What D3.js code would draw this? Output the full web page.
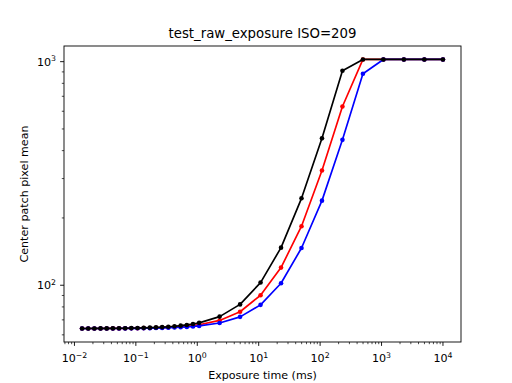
<!DOCTYPE html>
<html><head><meta charset="utf-8">
<script src="https://cdn.jsdelivr.net/npm/d3@7"></script>
<style>body{margin:0;background:#fff}svg{display:block}text{font-family:"DejaVu Sans",sans-serif;fill:#000}</style>
</head><body><svg id="c" width="512" height="383"></svg>
<script>
const title = "test_raw_exposure ISO=209";
const xLabel = "Exposure time (ms)";
const yLabel = "Center patch pixel mean";
const exposures = [0.0133,0.01676,0.02111,0.0266,0.03352,0.04223,0.0532,0.06703,0.08445,0.1064,
  0.1341,0.1689,0.2128,0.2681,0.3378,0.4256,0.5362,0.6756,0.8512,1.0724,
  2.31,4.977,10.72,23.1,49.77,107.2,231,497.7,1072,2310,4977,10000];
const redMeans = [64.03,64.04,64.05,64.06,64.08,64.10,64.13,64.16,64.21,64.26,
  64.33,64.41,64.52,64.65,64.82,65.03,65.30,65.64,66.07,66.61,
  69.6,76.1,90.2,119.9,183.7,325.8,630,1023,1023,1023,1023,1023];
const blueMeans = [64.02,64.03,64.03,64.04,64.06,64.07,64.09,64.11,64.14,64.18,
  64.22,64.28,64.35,64.44,64.56,64.70,64.88,65.11,65.40,65.77,
  67.8,72.2,81.7,102.1,146.7,239,447,883,1023,1023,1023,1023];
const blackMeans = [64.05,64.06,64.08,64.10,64.12,64.15,64.19,64.24,64.31,64.39,
  64.49,64.61,64.77,64.97,65.23,65.54,65.95,66.45,67.09,67.89,
  72.4,82.1,102.8,147.3,244.8,454,910,1023,1023,1023,1023,1023];
const xTickExps = [-2,-1,0,1,2,3,4];
const yTickExps = [2,3];
const series = [
  {values: redMeans, color: "#ff0000"},
  {values: blueMeans, color: "#0000ff"},
  {values: blackMeans, color: "#000000"}
];

const L = 64, R = 461, T = 46, B = 342;
const svg = d3.select("#c");

function logPad(lo, hi) {
  const a = Math.log10(lo), b = Math.log10(hi), m = (b - a) * 0.05;
  return [Math.pow(10, a - m), Math.pow(10, b + m)];
}
const allY = redMeans.concat(blueMeans, blackMeans);
const x = d3.scaleLog().domain(logPad(d3.min(exposures), d3.max(exposures))).range([L, R]);
const y = d3.scaleLog().domain(logPad(d3.min(allY), d3.max(allY))).range([B, T]);

// minor ticks
function minorTicks(scale) {
  const [d0, d1] = scale.domain();
  const out = [];
  for (let e = Math.floor(Math.log10(d0)); e <= Math.ceil(Math.log10(d1)); e++) {
    for (let k = 2; k <= 9; k++) {
      const v = k * Math.pow(10, e);
      if (v >= d0 && v <= d1) out.push(v);
    }
  }
  return out;
}

const g = svg.append("g");
// series
const line = d3.line().x((d, i) => x(exposures[i])).y(d => y(d));
series.forEach(s => {
  g.append("path").attr("d", line(s.values)).attr("fill", "none")
    .attr("stroke", s.color).attr("stroke-width", 1.67).attr("stroke-linejoin", "round").attr("stroke-linecap", "square");
  g.selectAll(null).data(s.values).enter().append("circle")
    .attr("cx", (d, i) => x(exposures[i])).attr("cy", d => y(d)).attr("r", 2.3).attr("fill", s.color);
});

// frame
svg.append("rect").attr("x", L).attr("y", T).attr("width", R - L).attr("height", B - T)
  .attr("fill", "none").attr("stroke", "#000").attr("stroke-width", 0.9);

// x ticks
const xt = svg.append("g");
xTickExps.forEach(e => {
  const px = x(Math.pow(10, e));
  xt.append("line").attr("x1", px).attr("x2", px).attr("y1", B).attr("y2", B + 3.9).attr("stroke", "#000").attr("stroke-width", 0.9);
  const t = xt.append("text").attr("x", px).attr("y", 362).attr("text-anchor", "middle").attr("font-size", 11.1);
  t.append("tspan").text("10");
  t.append("tspan").attr("dy", -4.5).attr("font-size", 7.8).text(e < 0 ? "\u2212" + (-e) : String(e));
});
minorTicks(x).forEach(v => {
  const px = x(v);
  xt.append("line").attr("x1", px).attr("x2", px).attr("y1", B).attr("y2", B + 2.2).attr("stroke", "#000").attr("stroke-width", 0.7);
});
// y ticks
yTickExps.forEach(e => {
  const py = y(Math.pow(10, e));
  xt.append("line").attr("x1", L).attr("x2", L - 3.9).attr("y1", py).attr("y2", py).attr("stroke", "#000").attr("stroke-width", 0.9);
  const t = xt.append("text").attr("x", 56).attr("y", py + 4).attr("text-anchor", "end").attr("font-size", 11.1);
  t.append("tspan").text("10");
  t.append("tspan").attr("dy", -4.5).attr("font-size", 7.8).text(String(e));
});
minorTicks(y).forEach(v => {
  const py = y(v);
  xt.append("line").attr("x1", L).attr("x2", L - 2.2).attr("y1", py).attr("y2", py).attr("stroke", "#000").attr("stroke-width", 0.7);
});

svg.append("text").attr("x", (L + R) / 2).attr("y", 38).attr("text-anchor", "middle").attr("font-size", 13.3).text(title);
svg.append("text").attr("x", (L + R) / 2).attr("y", 379).attr("text-anchor", "middle").attr("font-size", 11.1).text(xLabel);
svg.append("text").attr("transform", `translate(28,${(T + B) / 2}) rotate(-90)`).attr("text-anchor", "middle").attr("font-size", 11.1).text(yLabel);
</script></body></html>
